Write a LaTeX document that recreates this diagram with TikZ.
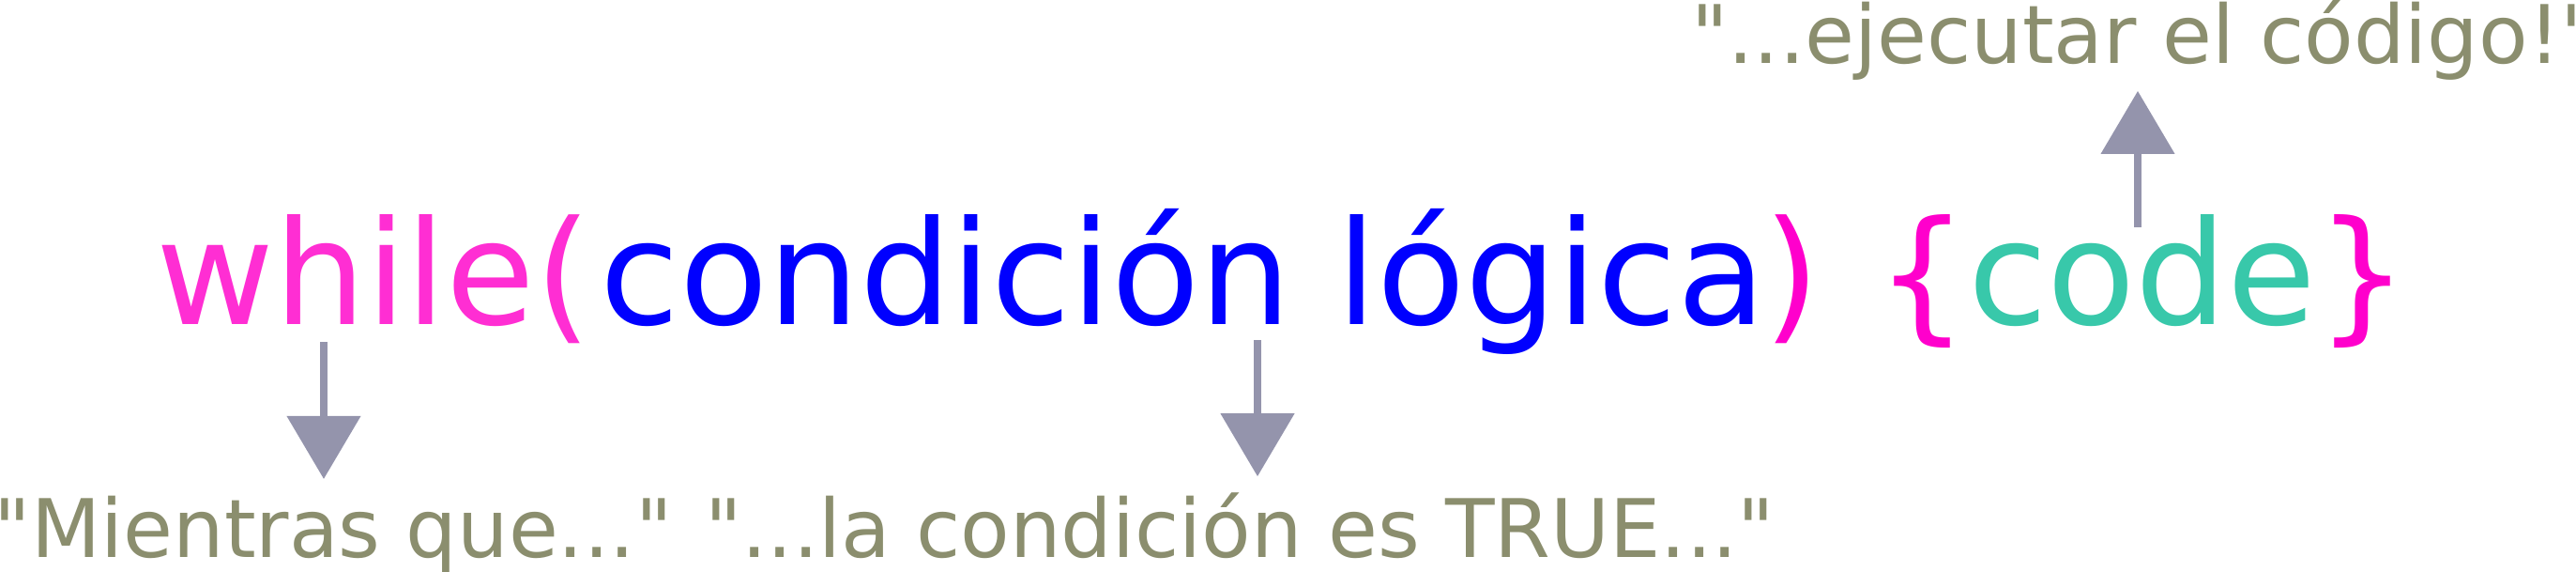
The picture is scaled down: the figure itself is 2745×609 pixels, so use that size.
\documentclass[tikz,border=0pt]{standalone}
\usepackage{fontspec}
\setmainfont{DejaVu Sans}
\usepackage{xcolor}
\usepackage{tikz}
\usetikzlibrary{arrows.meta}

\definecolor{kwpink}{RGB}{255,46,211}
\definecolor{condblue}{RGB}{0,0,255}
\definecolor{bracemag}{RGB}{255,0,204}
\definecolor{codeteal}{RGB}{56,200,170}
\definecolor{noteolive}{RGB}{139,142,110}
\definecolor{pointergray}{RGB}{148,148,172}
\newcommand{\qq}{\textquotedbl}

\begin{document}
\begin{tikzpicture}[x = 1pt, y = -1pt,
                    code/.style = { anchor = base west, inner sep=0pt, outer sep=0pt, font = \fontsize{154}{160}\selectfont },
                    note/.style = { anchor = base west, inner sep=0pt, outer sep=0pt, text = noteolive, font = \fontsize{86}{90}\selectfont },
                    pointer/.style = { draw = pointergray, line width = 8pt, -{Triangle[length = 67pt, width = 77pt]} },
                   ]
    \useasboundingbox (0,0) rectangle (2745,609);
    % the loop line
    \node[code, text = kwpink] (While) at (166.5,345) {while(};
    \node[code, text = condblue] (Cond) at (639.5,345) {condición lógica};
    \node[code, text = bracemag] (Close) at (1879,345) {)};
    \node[code, text = bracemag] (Body) at (1999,345) {\{\textcolor{codeteal}{code}\}};
    % the notes
    \node[note] (Mientras) at (-6,593) {\qq Mientras que...\qq};
    \node[note] (Verdad) at (751,593) {\qq...la condición es TRUE...\qq};
    \node[note] (Ejecutar) at (1802,68) {\qq...ejecutar el código!\qq};
    % the pointers
    \coordinate (WhileFoot) at (345,364);
    \coordinate (CondFoot) at (1340,362);
    \coordinate (CodeTop) at (2278,242);
    \draw[pointer, shorten > = 17.7pt] (WhileFoot) -- (WhileFoot |- Mientras.north);
    \draw[pointer, shorten > = 17pt] (CondFoot) -- (CondFoot |- Verdad.north);
    \draw[pointer, shorten > = 11pt] (CodeTop) -- (CodeTop |- Ejecutar.south);
\end{tikzpicture}
\end{document}
